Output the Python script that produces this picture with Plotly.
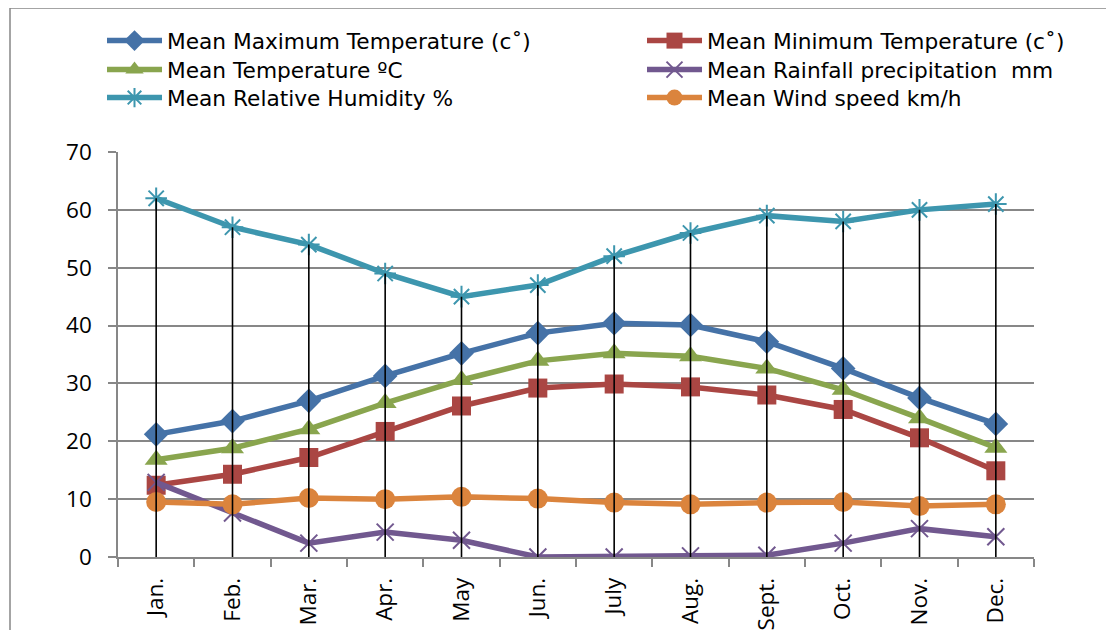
import plotly.graph_objects as go

months = ["Jan.", "Feb.", "Mar.", "Apr.", "May", "Jun.", "July", "Aug.", "Sept.", "Oct.", "Nov.", "Dec."]

max_temp = [21.2, 23.5, 27.0, 31.3, 35.2, 38.7, 40.4, 40.1, 37.2, 32.6, 27.5, 23.0]
min_temp = [12.4, 14.3, 17.2, 21.7, 26.1, 29.2, 29.9, 29.4, 28.0, 25.5, 20.6, 14.9]
mean_temp = [16.8, 18.8, 22.1, 26.6, 30.6, 33.9, 35.2, 34.7, 32.6, 28.9, 24.0, 18.9]
rainfall = [12.9, 7.6, 2.4, 4.3, 2.9, 0.0, 0.0, 0.2, 0.3, 2.4, 4.9, 3.5]
humidity = [62, 57, 54, 49, 45, 47, 52, 56, 59, 58, 60, 61]
wind = [9.5, 9.1, 10.2, 10.0, 10.4, 10.1, 9.4, 9.1, 9.4, 9.5, 8.8, 9.1]

names = [
    "Mean Maximum Temperature (c˚)",
    "Mean Minimum Temperature (c˚)",
    "Mean Temperature ºC",
    "Mean Rainfall precipitation  mm",
    "Mean Relative Humidity %",
    "Mean Wind speed km/h",
]

series = [max_temp, min_temp, mean_temp, rainfall, humidity, wind]
colors = ["#4572A7", "#AA4643", "#89A54E", "#71588F", "#3D96AE", "#DB843D"]
symbols = ["diamond", "square", "triangle-up", "x-thin-open", "asterisk-open", "circle"]
sizes = [19, 19, 20, 17, 18, 20]
legend_ids = ["legend", "legend2", "legend3", "legend4", "legend5", "legend6"]

fig = go.Figure()

for name, vals, col, sym, sz, lg in zip(names, series, colors, symbols, sizes, legend_ids):
    open_sym = sym.endswith("open")
    fig.add_trace(go.Scatter(
        x=months, y=vals, name=name, mode="lines+markers", legend=lg,
        line=dict(color=col, width=5.5),
        marker=dict(symbol=sym, size=sz, color=col,
                    line=dict(color=col, width=2 if open_sym else 0)),
    ))

# drop lines (black) from highest series down to axis
dx, dy = [], []
for m, h in zip(months, humidity):
    dx += [m, m, None]
    dy += [0, h, None]
fig.add_trace(go.Scatter(x=dx, y=dy, mode="lines", line=dict(color="black", width=1.6),
                         showlegend=False, hoverinfo="skip"))

grey = "#878787"
OFF = 8  # page body margin
W, H = 1114, 630
L, T = 118 - OFF, 152 - OFF
R = W - (1034 - OFF)
B = H - (557 - OFF)
pw, ph = W - L - R, H - T - B


def px_x(x):
    return (x - OFF - L) / pw


def px_y(y):
    return 1 + (T - (y - OFF)) / ph


legend_common = dict(
    orientation="v", yanchor="top", xanchor="left",
    itemwidth=55, font=dict(family="DejaVu Sans", size=21.7, color="black"),
    bgcolor="rgba(0,0,0,0)",
)

# legend item positions (screen px): column left, row top
col_x = [102, 642]
row_top = [20, 49, 77]
legend_layout = {}
for i, lg in enumerate(legend_ids):
    c = i % 2
    r = i // 2
    legend_layout[lg] = dict(x=px_x(col_x[c]), y=px_y(row_top[r]), **legend_common)

fig.update_layout(
    width=W, height=H,
    margin=dict(l=L, r=R, t=T, b=B, autoexpand=False),
    paper_bgcolor="white", plot_bgcolor="white",
    font=dict(family="Open Sans", size=22.5, color="black"),
    showlegend=True,
    **legend_layout,
    xaxis=dict(
        type="category", range=[-0.5, 11.5],
        showline=True, linecolor=grey, linewidth=1.5,
        ticks="outside", ticklen=8, tickcolor=grey, tickwidth=1.5,
        tickson="boundaries", tickangle=-90, ticklabelstandoff=10,
        showgrid=False, zeroline=False, automargin=False,
        tickfont=dict(family="Open Sans", size=22.5),
    ),
    yaxis=dict(
        range=[0, 70], dtick=10,
        showline=True, linecolor=grey, linewidth=1.5,
        ticks="outside", ticklen=8, tickcolor=grey, tickwidth=1.5,
        ticklabelstandoff=12,
        showgrid=True, gridcolor=grey, gridwidth=1.5,
        zeroline=False, automargin=False,
        tickfont=dict(family="Open Sans", size=22.5),
    ),
    shapes=[dict(
        type="rect", xref="paper", yref="paper",
        x0=px_x(10), x1=px_x(W + 30),
        y0=px_y(H + 30), y1=px_y(8),
        line=dict(color=grey, width=1.5), fillcolor="rgba(0,0,0,0)", layer="below",
    )],
)

fig.write_html("out.html")
